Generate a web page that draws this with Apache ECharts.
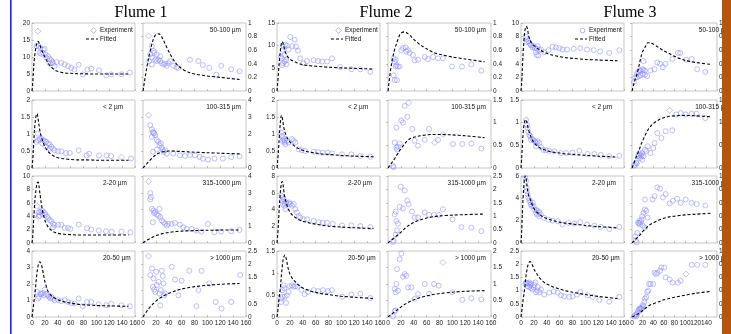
<!DOCTYPE html>
<html><head><meta charset="utf-8">
<script src="https://cdn.jsdelivr.net/npm/echarts@6/dist/echarts.min.js"></script>
<style>html,body{margin:0;padding:0;background:#fff}#c{width:731px;height:334px}</style>
</head><body><div id="c"></div>
<script>
// ---------- data ----------
const flumeTitles = ['Flume 1','Flume 2','Flume 3'];
const leftLabels = ['', '< 2 \u00b5m', '2-20 \u00b5m', '20-50 \u00b5m'];
const rightLabels = ['50-100 \u00b5m', '100-315 \u00b5m', '315-1000 \u00b5m', '> 1000 \u00b5m'];
const legendNames = ['Experiment', 'Fitted'];
const xMax = 160, xStep = 20;
const yMaxL = [[20,2,10,4],[15,2,8,1.5],[10,1.5,6,2.5]];
const yStepL = [[5,0.5,2,1],[5,0.5,2,0.5],[2,0.5,2,0.5]];
const yMaxR = [[1,4,4,2.5],[1,1.5,2.5,2],[1,1.5,1,1]];
const yStepR = [[0.2,1,1,0.5],[0.2,0.5,0.5,0.5],[0.2,0.5,0.2,0.2]];

// fitted curves sampled at fx
const fx = [0,1,2,3,4,5,6,7,8,9,10,11,12,14,16,18,20,25,30,35,40,50,60,70,80,100,120,150];
const fit1L1 = [0,2,5,8,10,11.5,12.8,13.8,14.4,14.6,14.5,14.1,13.6,12.6,11.6,10.8,10,8.2,7.0,6.2,5.8,5.35,5.2,5.1,5.05,5,5,5];
const fit1R1 = [0,0.06,0.12,0.18,0.24,0.3,0.35,0.4,0.45,0.5,0.54,0.58,0.62,0.7,0.76,0.8,0.83,0.84,0.78,0.68,0.58,0.42,0.33,0.28,0.25,0.22,0.2,0.17];
const fit1L2 = [0,0.2,0.5,0.85,1.15,1.35,1.5,1.58,1.6,1.5,1.38,1.25,1.12,0.95,0.83,0.72,0.63,0.48,0.4,0.34,0.3,0.27,0.25,0.24,0.24,0.23,0.23,0.23];
const fit1R2 = [0,0.04,0.08,0.12,0.16,0.2,0.25,0.3,0.34,0.38,0.42,0.46,0.5,0.58,0.65,0.72,0.78,0.88,0.95,0.98,1.0,0.99,0.97,0.95,0.93,0.9,0.87,0.83];
const fit1L3 = [0,0.8,2.5,4.2,5.7,6.9,7.8,8.5,8.9,9.1,9.0,8.4,7.6,6.2,5.0,4.1,3.4,2.4,1.9,1.6,1.45,1.3,1.25,1.2,1.2,1.2,1.2,1.2];
const fit1R3 = [0,0.03,0.06,0.09,0.12,0.15,0.17,0.19,0.21,0.23,0.25,0.27,0.29,0.33,0.37,0.4,0.43,0.5,0.56,0.6,0.63,0.68,0.71,0.73,0.74,0.76,0.77,0.78];
const fit1L4 = [0,0.3,0.6,0.9,1.2,1.6,2.0,2.4,2.75,3.0,3.2,3.3,3.35,3.25,2.95,2.55,2.15,1.55,1.3,1.15,1.05,0.92,0.84,0.78,0.74,0.7,0.67,0.65];
const fit1R4 = [0,0.04,0.08,0.12,0.15,0.19,0.22,0.26,0.29,0.32,0.35,0.38,0.41,0.46,0.51,0.56,0.6,0.7,0.77,0.84,0.9,0.99,1.06,1.11,1.15,1.2,1.24,1.27];
const fit2L1 = [0,1.5,3.5,5.5,7.2,8.6,9.8,10.6,10.9,10.7,10.2,9.6,9.0,8.2,7.7,7.3,7.0,6.6,6.3,6.0,5.8,5.6,5.45,5.35,5.25,5.1,5.0,4.85];
const fit2R1 = [0,0.08,0.16,0.24,0.31,0.37,0.43,0.48,0.52,0.56,0.6,0.63,0.66,0.72,0.77,0.82,0.85,0.87,0.85,0.81,0.76,0.68,0.62,0.57,0.54,0.5,0.47,0.43];
const fit2L2 = [0,0.2,0.45,0.75,1.05,1.3,1.48,1.55,1.5,1.38,1.25,1.15,1.07,0.97,0.88,0.82,0.77,0.68,0.61,0.56,0.52,0.47,0.44,0.41,0.4,0.37,0.35,0.33];
const fit2R2 = [0,0.02,0.04,0.06,0.08,0.1,0.12,0.14,0.16,0.18,0.2,0.22,0.24,0.29,0.33,0.38,0.42,0.52,0.6,0.65,0.68,0.71,0.73,0.74,0.74,0.73,0.71,0.67];
const fit2L3 = [0,0.8,2,3.5,4.8,5.9,6.7,7.2,7.35,7.2,6.6,6.0,5.5,4.9,4.4,4.0,3.7,3.25,2.95,2.75,2.6,2.4,2.25,2.12,2.02,1.9,1.82,1.72];
const fit2R3 = [0,0.02,0.04,0.06,0.08,0.1,0.12,0.14,0.16,0.18,0.2,0.22,0.24,0.28,0.32,0.36,0.4,0.52,0.62,0.7,0.77,0.86,0.93,0.98,1.01,1.04,1.06,1.08];
const fit2L4 = [0,0.1,0.25,0.4,0.52,0.62,0.8,0.98,1.12,1.25,1.33,1.38,1.41,1.35,1.2,1.07,0.98,0.85,0.78,0.71,0.66,0.6,0.56,0.53,0.51,0.47,0.45,0.42];
const fit2R4 = [0,0.02,0.03,0.05,0.06,0.08,0.09,0.11,0.12,0.14,0.15,0.17,0.18,0.21,0.24,0.27,0.3,0.37,0.43,0.48,0.52,0.59,0.64,0.68,0.71,0.75,0.78,0.8];
const fit3L1 = [0,1,3,5,6.8,8,8.8,9.3,9.5,9.45,9.1,8.6,8.1,7.5,7.1,6.85,6.7,6.3,6.0,5.75,5.55,5.25,5.05,4.9,4.8,4.65,4.55,4.45];
const fit3R1 = [0,0.03,0.06,0.09,0.12,0.15,0.17,0.19,0.21,0.24,0.27,0.3,0.33,0.4,0.47,0.53,0.58,0.65,0.71,0.71,0.69,0.64,0.59,0.55,0.51,0.45,0.42,0.39];
const fit3L2 = [0,0.2,0.45,0.7,0.88,0.98,1.04,1.07,1.07,1.02,0.95,0.88,0.83,0.74,0.67,0.61,0.56,0.49,0.44,0.41,0.38,0.35,0.33,0.31,0.3,0.28,0.26,0.24];
const fit3R2 = [0,0.03,0.06,0.09,0.12,0.15,0.18,0.21,0.24,0.27,0.3,0.33,0.36,0.42,0.48,0.55,0.6,0.73,0.84,0.92,0.98,1.06,1.11,1.14,1.15,1.16,1.15,1.13];
const fit3L3 = [0,1,2.5,3.8,4.8,5.5,5.9,6.0,5.8,5.3,4.85,4.5,4.2,3.95,3.65,3.35,3.1,2.75,2.5,2.32,2.2,2.0,1.87,1.77,1.7,1.57,1.47,1.35];
const fit3R3 = [0,0.008,0.016,0.024,0.032,0.04,0.048,0.056,0.064,0.072,0.08,0.088,0.096,0.11,0.13,0.15,0.17,0.21,0.25,0.28,0.3,0.34,0.37,0.39,0.4,0.42,0.43,0.445];
const fit3L4 = [0,0.2,0.4,0.6,0.78,0.94,1.15,1.4,1.6,1.75,1.88,1.98,2.05,2.1,2.05,1.95,1.82,1.62,1.45,1.33,1.25,1.14,1.06,0.99,0.94,0.85,0.78,0.7];
const fit3R4 = [0,0.004,0.008,0.012,0.016,0.02,0.024,0.028,0.032,0.036,0.04,0.045,0.05,0.06,0.07,0.08,0.1,0.13,0.16,0.185,0.2,0.23,0.26,0.28,0.3,0.33,0.36,0.39];

// experiment points [x, y] (circles) and diamonds
const exp1L1 = [[7,13.2],[10.4,13.2],[13,12.7],[17,12.2],[19.7,12.4],[12,11.2],[14.5,10.9],[17,11.2],[21,10.7],[25,10.2],[22,9.8],[27.5,9.5],[30,9],[31.6,8.5],[32.6,8.1],[27.5,8.1],[35,7.3],[38,8.5],[45.6,8.3],[50.7,7.8],[56,7.3],[61,6.8],[66,6.3],[72.5,7.7],[79,4.9],[86,6.3],[92,6.6],[104,6.1],[115.5,4.6],[123,4.9],[139,4.9],[152,5.4]];
const dia1L1 = [[9,17.6]];
const exp1R1 = [[13.8,0.66],[16.4,0.59],[11.3,0.54],[13.8,0.49],[9.7,0.44],[13.8,0.39],[19,0.46],[21.5,0.44],[24,0.46],[26.7,0.44],[29.2,0.41],[31.8,0.39],[34.4,0.4],[37,0.37],[39.5,0.41],[21.5,0.54],[17.4,0.56],[26.7,0.51],[42,0.44],[47,0.37],[52,0.35],[55,0.34],[73,0.46],[86,0.44],[93,0.38],[103,0.34],[114,0.24],[121.5,0.37],[137,0.32],[150,0.29]];
const dia1R1 = [[8.7,0.81]];
const exp1L2 = [[9.3,1.01],[6.7,0.77],[9.3,0.82],[12,0.84],[14.5,0.87],[17,0.82],[19.7,0.8],[22,0.77],[25,0.72],[27.5,0.69],[30,0.62],[32.6,0.57],[35,0.52],[27.5,0.57],[40.5,0.49],[45.6,0.49],[53,0.44],[58.7,0.44],[72.5,0.52],[84.7,0.37],[88.8,0.42],[104,0.37],[115.8,0.37],[123,0.35],[153.8,0.28],[22,0.62],[16,0.72]];
const dia1L2 = [[139,0.32]];
const exp1R2 = [[11.3,2.52],[13.8,2.27],[15.4,2.13],[17.4,2.03],[13.8,1.83],[19,1.93],[16.4,2.07],[21.5,1.64],[24,1.54],[25.6,1.34],[27.7,1.44],[29.2,1.2],[30.8,1.08],[31.8,0.95],[34.4,1.04],[15.4,0.95],[21.5,1.08],[37,0.85],[47,0.85],[57.4,0.75],[65,0.71],[73,0.75],[80.5,0.75],[88,0.65],[93,0.55],[101,0.49],[111,0.55],[124,0.55],[137,0.65],[150,0.69]];
const dia1R2 = [[8.7,3.11]];
const exp1L3 = [[10.9,4.6],[13,4.6],[14.5,4.85],[17,4.75],[12,4.1],[10.4,3.95],[16,4.35],[19.7,4.45],[21,4.2],[23.3,3.95],[25,3.7],[27.5,3.45],[30,3.25],[32.6,2.85],[32.6,2.35],[35,2.7],[40.5,2.7],[45.6,2.7],[50.8,2.25],[56,2.25],[59.6,2.1],[72.5,2.75],[85.5,2.2],[92,2.0],[103.6,1.85],[115,1.75],[124,1.7],[139,1.7],[153,1.6],[4.1,4.15]];
const dia1L3 = [[8.3,5.5]];
const exp1R3 = [[11.3,2.98],[12.3,2.74],[11.3,2.6],[13.8,2.04],[16.4,1.94],[17.4,1.78],[19,1.84],[21.5,1.7],[24,1.64],[25.6,2.04],[26.7,1.54],[29.2,1.34],[31.8,1.24],[34.4,1.14],[37,1.04],[15.4,1.24],[39.5,1.14],[44.6,1.14],[49.7,1.2],[57.4,1.1],[62.6,0.94],[67.7,0.84],[75.4,0.84],[83,0.74],[90.8,0.68],[101,1.14],[111,0.64],[121.5,0.68],[137,0.7],[150,0.78]];
const dia1R3 = [[8.7,3.68]];
const exp1L4 = [[7.8,1.52],[10.9,1.22],[9.3,1.12],[13,1.42],[14.5,1.38],[17,1.46],[19.7,1.66],[18.3,1.32],[22,1.38],[25,1.32],[26.4,1.22],[28.5,1.12],[30,1.22],[32.6,1.12],[35,1.02],[40.5,1.02],[45.6,0.95],[50.8,1.02],[56,0.91],[61,0.85],[66,0.81],[72.5,1.12],[79,0.65],[85.5,0.91],[92,0.91],[103.6,0.77],[115.5,0.71],[123,0.81],[139,0.71],[152,0.65]];
const dia1L4 = [];
const exp1R4 = [[11.3,1.59],[13.8,1.84],[16.4,1.46],[15.4,1.14],[17.4,1.04],[19,0.95],[21.5,1.21],[20.5,1.71],[24,1.33],[25.6,0.89],[27.7,1.02],[29.2,1.75],[30.8,1.55],[31.8,1.27],[34.4,0.89],[33,0.82],[26.7,0.44],[44.6,1.9],[49.7,1.42],[55,0.82],[60,1.37],[72,1.75],[83,0.41],[91,1.75],[86,1.02],[103,1.27],[113,0.57],[122,0.32],[137,0.57],[151,1.59]];
const dia1R4 = [[8.7,2.31]];

const exp2L1 = [[6.2,7.6],[7.8,7.2],[9.3,6.1],[11.9,6.5],[10.4,9.8],[13,10.2],[15.5,10.0],[8.8,9.1],[11.4,7.9],[14,6.8],[7.8,5.7],[14.5,5.9],[18,9.1],[20.7,11.9],[24,9.9],[27.4,11.3],[29.5,9.8],[32.6,8.9],[36,7.2],[41,6.1],[46.6,6.6],[57,6.8],[63.7,6.6],[70,6.5],[77.7,6.5],[85.4,7.2],[98,5.3],[115.5,4.8],[129.4,4.8],[145,4.2]];
const dia2L1 = [];
const exp2R1 = [[8.8,0.48],[10.4,0.43],[12,0.36],[8.8,0.23],[10.4,0.16],[14,0.16],[13,0.38],[15.5,0.36],[12,0.46],[18,0.36],[20.7,0.6],[23.3,0.63],[27.4,0.64],[31,0.6],[28.5,0.58],[33.6,0.56],[38.8,0.53],[41.4,0.45],[46.6,0.46],[57,0.5],[62,0.47],[70,0.5],[77.7,0.48],[85.4,0.48],[99.4,0.36],[115,0.36],[129.4,0.39],[145,0.3]];
const dia2R1 = [];
const exp2L2 = [[6.2,1.05],[7.8,0.95],[9.3,0.9],[10.4,0.85],[8.8,0.8],[11.4,0.75],[13,0.7],[11.9,0.8],[15.5,0.8],[18,0.75],[23.3,0.85],[25.9,0.8],[28.5,0.75],[33.6,0.55],[38.8,0.52],[44,0.5],[57,0.48],[63.7,0.47],[71,0.45],[78.7,0.45],[85.4,0.43],[101,0.4],[115.5,0.4],[129.4,0.35],[145,0.33]];
const dia2L2 = [];
const exp2R2 = [[7.8,0.04],[8.8,0.02],[10.4,0.56],[13,0.89],[13,0.45],[15.5,0.47],[14,0.41],[18,0.54],[20.7,1.05],[23.3,1.0],[25.9,1.37],[30,1.13],[37.8,0.86],[41.4,0.6],[46.6,0.49],[57,0.62],[63.7,0.86],[77.7,0.62],[101,0.53],[115.5,0.53],[129.5,0.54],[145,0.43]];
const dia2R2 = [[32.1,1.44],[72.5,0.56],[85.4,0.74]];
const exp2L3 = [[6.7,5.65],[8.8,5.45],[7.8,5.05],[10.4,5.25],[9.3,4.65],[11.4,4.45],[13,4.04],[11.9,4.77],[14.5,4.85],[17,4.65],[19,4.85],[20.7,4.65],[23.3,4.45],[26,4.65],[28.5,4.04],[31,3.64],[33.6,3.23],[36,3.03],[41.4,2.83],[46.6,2.83],[57,2.63],[64.7,2.5],[71,2.42],[77.7,2.42],[86.5,2.3],[101,2.1],[115.5,2.1],[129.4,2.02],[145,1.9]];
const dia2L3 = [];
const exp2R3 = [[7.8,0.04],[8.8,0.09],[10.4,1.07],[12,1.17],[13,0.82],[15.5,0.72],[14,0.47],[12,0.31],[18,1.35],[19.7,2.1],[23.3,1.29],[25.9,1.96],[30,1.58],[32,1.45],[37.3,1.17],[41.4,0.95],[46.6,0.95],[57,1.14],[63.7,1.05],[71.5,1.05],[79.2,1.05],[85.4,1.26],[100,0.88],[114,0.59],[129.4,0.57],[145,0.44]];
const dia2R3 = [];
const exp2L4 = [[6.2,0.34],[6.7,0.42],[7.8,0.61],[10.4,0.72],[11.4,0.65],[8.8,0.46],[11.9,0.46],[14,0.32],[15.5,0.49],[18,0.57],[19.7,0.7],[23.3,0.72],[25.9,0.69],[28.5,0.7],[32,0.69],[37.8,0.62],[43,0.52],[48,0.57],[57,0.61],[63.7,0.59],[71.5,0.61],[79.2,0.59],[85.4,0.61],[101,0.46],[115.5,0.51],[129.4,0.53],[145,0.43]];
const dia2L4 = [];
const exp2R4 = [[7.8,0.02],[10.4,0.18],[12,0.2],[10.4,0.85],[13,1.0],[12,0.75],[14,1.45],[15.5,0.8],[18,1.75],[20.7,1.92],[23.3,1.22],[25.9,1.3],[28.5,1.25],[31,0.9],[36.3,0.9],[41.4,0.55],[46.6,0.7],[57,1.0],[63.7,0.7],[71.5,1.0],[78.7,0.95],[100,0.75],[115.5,0.52],[129.4,0.57],[145,0.53]];
const dia2R4 = [[85.4,1.65]];

const exp3L1 = [[7.8,8.0],[9.3,7.6],[8.8,7.2],[11.4,7.3],[13,7.1],[14.5,6.8],[16.6,6.7],[18.1,6.4],[19.7,6.6],[21.7,6.3],[24.9,6.2],[25.9,6.6],[23.3,5.7],[24.3,5.3],[26.9,5.2],[28.5,6.0],[31,6.1],[36,5.7],[42.5,6.0],[49,6.5],[54.4,6.4],[59.5,6.3],[64.7,6.1],[71.5,6.1],[81.8,6.2],[92,6.3],[102.5,6.1],[113,6.0],[123,5.8],[137,5.6],[152.7,6.0]];
const dia3L1 = [];
const exp3R1 = [[3.6,0.13],[6.2,0.2],[8.8,0.25],[11.4,0.28],[14,0.3],[16.6,0.3],[19.2,0.32],[21.7,0.31],[24.3,0.3],[8.8,0.2],[12.9,0.22],[16.6,0.23],[20.2,0.25],[24.3,0.24],[28.5,0.22],[21.7,0.44],[34.7,0.3],[42.5,0.32],[47.6,0.42],[52.8,0.4],[58,0.35],[63,0.4],[76,0.47],[86.4,0.56],[90.6,0.56],[102,0.46],[112.4,0.47],[122.8,0.32],[138,0.28]];
const dia3R1 = [];
const exp3L2 = [[7.8,1.06],[9.3,0.95],[10.4,0.88],[11.4,0.8],[13,0.73],[14.5,0.7],[15.5,0.62],[18.1,0.64],[19.7,0.61],[21.7,0.59],[24.3,0.55],[25.9,0.59],[28.5,0.55],[23.3,0.48],[31,0.46],[34.7,0.4],[38.8,0.39],[44,0.38],[51.8,0.37],[62,0.33],[70,0.33],[80,0.34],[90.6,0.38],[103.6,0.31],[114,0.31],[124,0.29],[137,0.26],[152.7,0.27]];
const dia3L2 = [];
const exp3R2 = [[3.6,0.05],[6.2,0.07],[8.8,0.1],[7.8,0.12],[11.4,0.26],[12.9,0.29],[14,0.33],[16.6,0.29],[15,0.22],[18,0.26],[19.2,0.33],[21.7,0.26],[24.3,0.4],[26.9,0.37],[19.2,0.18],[29.5,0.48],[34.7,0.33],[39.9,0.44],[42.5,0.55],[47.6,0.77],[55.4,0.66],[63.3,0.81],[76,0.83],[83.4,1.18],[91.6,1.21],[101,1.18],[112.4,1.2],[121.7,1.2],[138,1.1]];
const dia3R2 = [[71,1.27]];
const exp3L3 = [[6.7,5.85],[7.8,5.55],[8.8,4.95],[9.3,4.65],[10.4,4.35],[11.4,4.05],[13,3.85],[14.5,3.66],[15.5,3.45],[18.1,3.6],[16.6,3.3],[19.7,3.3],[20.7,3.0],[23.3,2.7],[24.3,2.95],[25.9,2.85],[28.5,2.75],[31,2.55],[24.9,2.55],[28.5,2.4],[36,2.25],[42.5,2.1],[49,2.0],[57,1.95],[64.7,1.65],[73.5,1.8],[83,1.74],[92,1.86],[102.6,1.65],[114,1.56],[124,1.44],[137,1.26],[152.7,1.44]];
const dia3L3 = [];
const exp3R3 = [[6.2,0.1],[7.3,0.04],[8.8,0.01],[9.8,0.15],[11.4,0.3],[12.9,0.3],[14,0.33],[16.6,0.31],[15,0.28],[18,0.35],[19.2,0.4],[21.7,0.45],[24.3,0.5],[26.9,0.48],[20.2,0.26],[24.3,0.65],[29.5,0.38],[24.3,0.23],[38.8,0.65],[42.5,0.7],[47.6,0.83],[52.8,0.81],[58,0.68],[63.3,0.73],[71,0.59],[77,0.63],[85,0.66],[91.6,0.6],[101,0.65],[112.4,0.6],[121.7,0.58],[138,0.56]];
const dia3R3 = [];
const exp3L4 = [[6.7,1.25],[7.8,1.31],[9.3,1.29],[11.4,1.27],[13,1.31],[14.5,1.21],[15.5,1.25],[10.4,1.16],[13,1.13],[15.5,1.09],[18.1,1.04],[19.7,1.13],[20.7,1.21],[22.3,1.31],[23.3,0.94],[25.9,1.0],[28.5,0.94],[25.9,1.13],[31,1.04],[36,0.85],[44,0.92],[50.7,0.97],[57,0.92],[62,0.82],[67,0.78],[75,0.76],[80,0.78],[87,0.85],[92,0.94],[103.6,0.82],[111.4,0.76],[121.7,0.64],[137,0.58],[152.7,0.76]];
const dia3L4 = [];
const exp3R4 = [[3.6,0.01],[6.2,0.03],[8.8,0.04],[7.8,0.01],[10.4,0.06],[11.4,0.09],[12.9,0.11],[14,0.12],[15,0.13],[16.6,0.13],[18,0.12],[19.2,0.14],[20.2,0.18],[21.7,0.16],[23.3,0.23],[24.3,0.28],[26.9,0.3],[28.5,0.38],[30.5,0.4],[32,0.5],[34.7,0.5],[39.9,0.5],[42.5,0.67],[45,0.65],[47.6,0.67],[52.8,0.7],[55.4,0.75],[60.6,0.75],[63.3,0.6],[71,0.57],[76,0.52],[86.4,0.52],[91.6,0.55],[112.4,0.79],[122.8,0.79],[138,0.79]];
const dia3R4 = [[101.9,0.65]];

const fitsL = [[fit1L1,fit1L2,fit1L3,fit1L4],[fit2L1,fit2L2,fit2L3,fit2L4],[fit3L1,fit3L2,fit3L3,fit3L4]];
const fitsR = [[fit1R1,fit1R2,fit1R3,fit1R4],[fit2R1,fit2R2,fit2R3,fit2R4],[fit3R1,fit3R2,fit3R3,fit3R4]];
const expsL = [[exp1L1,exp1L2,exp1L3,exp1L4],[exp2L1,exp2L2,exp2L3,exp2L4],[exp3L1,exp3L2,exp3L3,exp3L4]];
const expsR = [[exp1R1,exp1R2,exp1R3,exp1R4],[exp2R1,exp2R2,exp2R3,exp2R4],[exp3R1,exp3R2,exp3R3,exp3R4]];
const diasL = [[dia1L1,dia1L2,dia1L3,dia1L4],[dia2L1,dia2L2,dia2L3,dia2L4],[dia3L1,dia3L2,dia3L3,dia3L4]];
const diasR = [[dia1R1,dia1R2,dia1R3,dia1R4],[dia2R1,dia2R2,dia2R3,dia2R4],[dia3R1,dia3R2,dia3R3,dia3R4]];

// ---------- layout ----------
const flumeOff = [0, 245, 489];
const rowTop = [23, 100, 176, 251];
const rowH = [68, 68, 67, 66];
const colLeft = [32, 143];
const panelW = 103;
const expColor = '#8a8aff';
const tickFont = 'Liberation Sans';

const grids = [], xAxes = [], yAxes = [], series = [], graphics = [], legends = [];
let gi = 0;
for (let f = 0; f < 3; f++) {
  for (let r = 0; r < 4; r++) {
    for (let c = 0; c < 2; c++) {
      const left = flumeOff[f] + colLeft[c];
      grids.push({left: left, top: rowTop[r], width: panelW, height: rowH[r], show: true,
        borderColor: '#b8b8b8', borderWidth: 0.8, backgroundColor: 'transparent'});
      const tick = {show: true, inside: true, length: 2, lineStyle: {color: '#9a9a9a', width: 0.6}};
      xAxes.push({gridIndex: gi, type: 'value', min: 0, max: xMax, interval: xStep,
        axisLine: {show: false}, axisTick: tick, splitLine: {show: false},
        axisLabel: {show: r === 3, fontSize: 6.5, margin: 3, color: '#222', fontFamily: tickFont}});
      const ymax = c === 0 ? yMaxL[f][r] : yMaxR[f][r];
      const ystep = c === 0 ? yStepL[f][r] : yStepR[f][r];
      yAxes.push({gridIndex: gi, type: 'value', min: 0, max: ymax, interval: ystep,
        position: c === 0 ? 'left' : 'right',
        axisLine: {show: false}, axisTick: tick, splitLine: {show: false},
        axisLabel: {fontSize: 6.5, margin: 2, color: '#222', fontFamily: tickFont}});
      const fit = c === 0 ? fitsL[f][r] : fitsR[f][r];
      const ex = c === 0 ? expsL[f][r] : expsR[f][r];
      const di = c === 0 ? diasL[f][r] : diasR[f][r];
      const pts = ex.map(p => ({value: p}))
        .concat(di.map(p => ({value: p, symbol: 'diamond', symbolSize: 6})));
      series.push({name: 'Experiment', type: 'scatter', xAxisIndex: gi, yAxisIndex: gi,
        data: pts, symbol: 'circle', symbolSize: 5, z: 2,
        itemStyle: {color: 'rgba(0,0,0,0)', borderColor: expColor, borderWidth: 0.7}});
      series.push({name: 'Fitted', type: 'line', xAxisIndex: gi, yAxisIndex: gi,
        data: fx.map((x, k) => [x, fit[k]]), symbol: 'none', smooth: 0.3, z: 3,
        lineStyle: {color: '#000', width: 1.1, type: [3, 2]}});
      const lab = c === 0 ? leftLabels[r] : rightLabels[r];
      if (lab) {
        graphics.push({type: 'text', z: 5, style: {text: lab,
          x: c === 0 ? left + 71 : left + 98, y: rowTop[r] + 7,
          align: c === 0 ? 'left' : 'right', verticalAlign: 'middle',
          font: '6.5px "Liberation Sans"', fill: '#111'}});
      }
      gi++;
    }
  }
  const off = flumeOff[f];
  graphics.push({type: 'text', style: {text: flumeTitles[f], x: off + 141, y: 13,
    align: 'center', verticalAlign: 'middle', font: '16px "Liberation Serif"', fill: '#000'}});
  // legend: text via legend component, icons drawn as small shapes
  legends.push({left: off + 84, top: 27, orient: 'vertical', itemWidth: 11, itemHeight: 6,
    itemGap: 1.5, padding: 0,
    textStyle: {fontSize: 6.5, fontFamily: tickFont, color: '#111', lineHeight: 7},
    data: [{name: legendNames[0], icon: 'none'}, {name: legendNames[1], icon: 'none'}]});
  const ly1 = 30.5, ly2 = 39;
  if (f < 2) {
    graphics.push({type: 'polygon', z: 6, shape: {points: [[off+93.5, ly1-2.8],[off+96.3, ly1],[off+93.5, ly1+2.8],[off+90.7, ly1]]},
      style: {fill: 'none', stroke: expColor, lineWidth: 0.7}});
  } else {
    graphics.push({type: 'circle', z: 6, shape: {cx: off + 93.5, cy: ly1, r: 2.4},
      style: {fill: 'none', stroke: expColor, lineWidth: 0.7}});
  }
  graphics.push({type: 'line', z: 6, shape: {x1: off + 86, y1: ly2, x2: off + 98, y2: ly2},
    style: {stroke: '#000', lineWidth: 1.1, lineDash: [3, 2]}});
}
graphics.push({type: 'rect', z: 50, shape: {x: 10, y: 0, width: 1.6, height: 334}, style: {fill: '#1c1cf5'}});
graphics.push({type: 'rect', z: 100, shape: {x: 722, y: 0, width: 9, height: 334}, style: {fill: '#b5560f'}});

const chart = echarts.init(document.getElementById('c'), null, {renderer: 'canvas'});
chart.setOption({
  animation: false,
  backgroundColor: '#fff',
  grid: grids, xAxis: xAxes, yAxis: yAxes, series: series,
  legend: legends,
  graphic: {elements: graphics}
});
</script></body></html>
